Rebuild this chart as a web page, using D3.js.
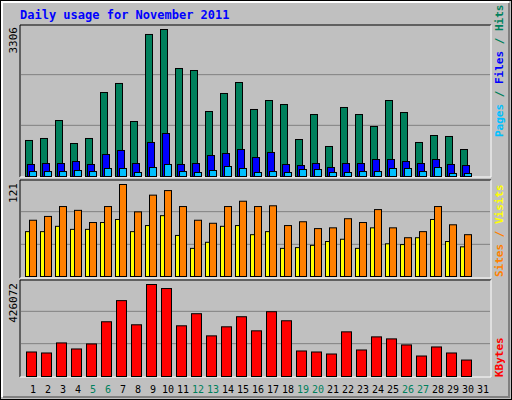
<!DOCTYPE html>
<html>
<head>
<meta charset="utf-8">
<script src="https://cdn.jsdelivr.net/npm/d3@7"></script>
<style>
  body { margin: 0; background: #fff; }
  text { font-family: "DejaVu Sans Mono", monospace; }
</style>
</head>
<body>
<div id="chart"></div>
<script>
// values
const days = d3.range(1, 32);
const weekend = [5, 6, 12, 13, 19, 20, 26, 27];
const hits = [810, 855, 1259, 742, 855, 1889, 2092, 1237, 3194, 3306, 2429, 2384, 1462, 1867, 2114, 1507, 1709, 1619, 832, 1394, 675, 1552, 1394, 1125, 1709, 1439, 765, 922, 900, 607];
const files = [270, 292, 292, 337, 270, 495, 585, 292, 765, 967, 270, 292, 472, 517, 607, 427, 540, 270, 247, 292, 202, 292, 292, 382, 382, 337, 292, 382, 270, 247];
const pages = [112, 112, 112, 135, 112, 180, 180, 90, 202, 270, 112, 90, 135, 225, 180, 90, 112, 90, 157, 157, 90, 90, 112, 112, 180, 180, 112, 202, 67, 67];
const visits = [74, 79, 92, 87, 71, 92, 121, 85, 107, 113, 92, 74, 70, 92, 99, 92, 93, 67, 72, 63, 64, 76, 71, 88, 64, 51, 59, 92, 68, 55];
const sites = [59, 59, 66, 62, 62, 71, 75, 59, 67, 80, 54, 37, 45, 66, 67, 55, 59, 37, 38, 41, 46, 49, 37, 64, 43, 42, 51, 75, 46, 39];
const kbytes = [113500, 108900, 155500, 127500, 150800, 253500, 351400, 239500, 426072, 407400, 234800, 290800, 188200, 230100, 276800, 211500, 300100, 258100, 118200, 113500, 104200, 206800, 122800, 183500, 174200, 146200, 94900, 136800, 108900, 76200];

const W = 512, H = 400;
const svg = d3.select("#chart").append("svg").attr("width", W).attr("height", H);

// background + bevel
svg.append("rect").attr("x", 0.5).attr("y", 0.5).attr("width", W - 1).attr("height", H - 1)
    .attr("fill", "#c0c0c0").attr("stroke", "black");
svg.append("path").attr("d", `M2,${H - 3} V2 H${W - 3}`).attr("stroke", "white").attr("stroke-width", 2).attr("fill", "none");
svg.append("path").attr("d", `M3,${H - 3} H${W - 3} V3`).attr("stroke", "#808080").attr("stroke-width", 2).attr("fill", "none");

svg.append("text").text("Daily usage for November 2011")
    .attr("x", 20).attr("y", 19).attr("fill", "#0000ff")
    .attr("font-size", 12).attr("font-weight", "bold");

const x = d3.scaleBand().domain(days).range([25, 490]).paddingInner(0).paddingOuter(0);

function panel(top, bottom, maxLabel, labelY) {
    svg.append("path").attr("d", `M20,${bottom} V${top} H491`).attr("stroke", "black").attr("fill", "none");
    svg.append("path").attr("d", `M20,${bottom} H491 V${top}`).attr("stroke", "white").attr("fill", "none");
    const h = bottom - top;
    [1, 2].forEach(k => {
        svg.append("line").attr("x1", 21).attr("x2", 490)
            .attr("y1", bottom - 1 - k * h / 3).attr("y2", bottom - 1 - k * h / 3)
            .attr("stroke", "#808080");
    });
    svg.append("text").text(maxLabel)
        .attr("transform", `translate(17,${labelY}) rotate(-90)`)
        .attr("text-anchor", "end").attr("font-size", 11).attr("fill", "black");
}

function bars(data, y, base, dx, w, color) {
    svg.append("g").selectAll("rect").data(data).join("rect")
        .attr("x", (d, i) => x(i + 1) + dx + 0.5)
        .attr("y", d => y(d) + 0.5)
        .attr("width", w)
        .attr("height", d => base - y(d))
        .attr("fill", color).attr("stroke", "black");
}

function rightLabel(parts, bottomY) {
    const t = svg.append("text")
        .attr("transform", `translate(503,${bottomY}) rotate(-90)`)
        .attr("font-size", 11).attr("font-weight", "bold");
    parts.forEach(p => t.append("tspan").text(p[0]).attr("fill", p[1]));
}

// top panel: hits / files / pages
panel(25, 177, "3306", 27);
const y1 = d3.scaleLinear().domain([0, 3306]).range([176, 29]);
bars(hits, y1, 176, 0, 7, "#00805c");
bars(files, y1, 176, 2, 7, "#0000ff");
bars(pages, y1, 176, 4, 7, "#00c0ff");
rightLabel([["Pages", "#00c0ff"], [" / ", "#00805c"], ["Files", "#0000ff"], [" / ", "#00805c"], ["Hits", "#00805c"]], 137);

// middle panel: sites / visits
panel(180, 278, "121", 183);
const y2 = d3.scaleLinear().domain([0, 121]).range([276, 184]);
bars(sites, y2, 276, 0, 7, "#ffff00");
bars(visits, y2, 276, 4, 7, "#ff8000");
rightLabel([["Sites", "#ff8000"], [" / ", "#ff8000"], ["Visits", "#ffff00"]], 277);

// bottom panel: kbytes
panel(280, 377, "426072", 283);
const y3 = d3.scaleLinear().domain([0, 426072]).range([376, 284]);
bars(kbytes, y3, 376, 1, 10, "#ff0000");
rightLabel([["KBytes", "#ff0000"]], 377);

// day labels
svg.append("g").selectAll("text").data(days).join("text")
    .attr("x", d => x(d) + 8).attr("y", 393)
    .attr("text-anchor", "middle").attr("font-size", 10)
    .attr("fill", d => weekend.includes(d) ? "#00805c" : "black")
    .text(d => d);
</script>
</body>
</html>
